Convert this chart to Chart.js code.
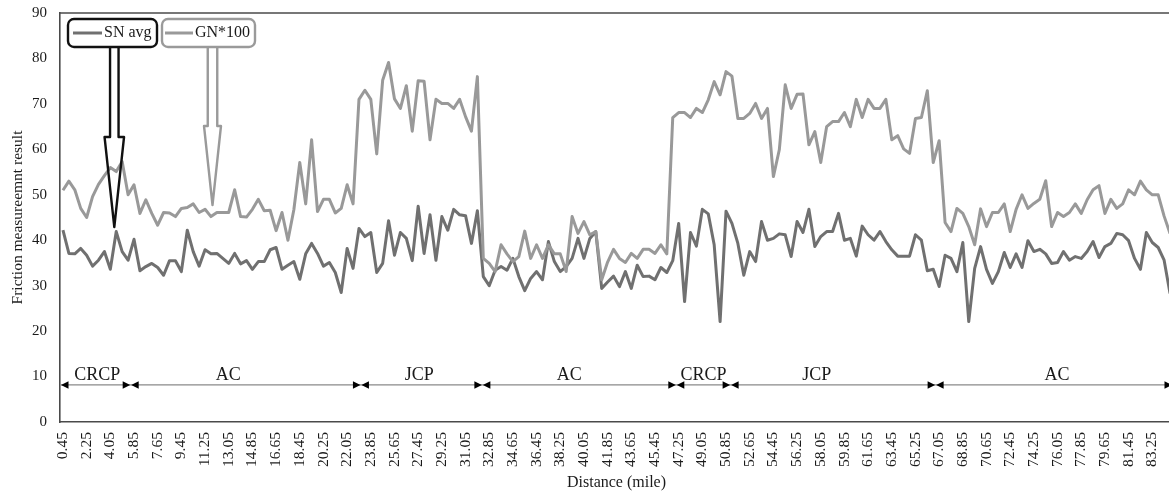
<!DOCTYPE html>
<html lang="en">
<head>
<meta charset="UTF-8">
<title>Friction measurement along the route</title>
<script src="https://cdn.jsdelivr.net/npm/chart.js@4"></script>
<style>
  html, body { margin: 0; padding: 0; background: #fff; overflow: hidden; }
  #wrap { width: 1169px; height: 494px; overflow: hidden; }
  canvas { display: block; }
</style>
</head>
<body>
<div id="wrap"><canvas id="frictionChart" width="1175" height="494"></canvas></div>
<script>
// distance stations every 0.45 mile
const distance = [];
for (let i = 1; i <= 188; i++) distance.push((0.45 * i).toFixed(2));

const snAvg = [
  42.2, 37.1, 37.0, 38.2, 36.7, 34.3, 35.6, 37.5, 33.6, 41.9,
  37.5, 35.6, 40.2, 33.3, 34.2, 34.9, 34.0, 32.3, 35.5, 35.5,
  33.1, 42.2, 37.5, 34.3, 37.9, 37.0, 37.1, 36.0, 34.9, 37.1,
  34.8, 35.5, 33.6, 35.3, 35.3, 37.9, 38.4, 33.6, 34.5, 35.3,
  31.4, 37.0, 39.3, 37.1, 34.3, 35.1, 32.9, 28.5, 38.2, 33.8,
  42.6, 40.8, 41.7, 32.9, 34.9, 44.3, 36.7, 41.7, 40.4, 35.5,
  47.5, 37.1, 45.6, 35.6, 45.2, 42.2, 46.8, 45.6, 45.4, 39.3,
  46.5, 32.0, 30.0, 33.4, 34.2, 33.4, 36.0, 32.0, 28.9, 31.6,
  33.1, 31.3, 39.7, 35.3, 33.1, 34.2, 36.0, 40.4, 36.0, 40.4,
  41.9, 29.4, 30.8, 32.1, 29.8, 33.1, 29.4, 34.5, 32.0, 32.1,
  31.3, 34.0, 32.9, 35.5, 43.7, 26.5, 41.7, 38.7, 46.8, 45.8,
  39.0, 22.1, 46.4, 43.7, 39.3, 32.3, 37.5, 35.3, 44.1, 40.0,
  40.4, 41.4, 41.2, 36.4, 44.1, 41.7, 46.8, 38.6, 40.8, 41.9,
  41.9, 45.9, 40.0, 40.4, 36.5, 43.1, 41.2, 40.0, 41.9, 39.7,
  37.9, 36.5, 36.5, 36.5, 41.2, 40.0, 33.3, 33.6, 29.8, 36.7,
  36.0, 33.1, 39.5, 22.1, 33.8, 38.6, 33.6, 30.5, 33.1, 37.3,
  34.0, 37.0, 34.0, 39.9, 37.5, 38.0, 37.0, 34.9, 35.1, 37.5,
  35.6, 36.4, 36.0, 37.5, 39.7, 36.2, 38.6, 39.3, 41.5, 41.2,
  39.9, 36.0, 33.6, 41.7, 39.5, 38.4, 35.6, 28.3
];

const gn100 = [
  51.0, 53.0, 51.1, 47.0, 45.0, 49.6, 52.3, 54.2, 56.0, 55.1,
  57.3, 50.0, 52.2, 45.9, 48.9, 45.9, 43.3, 46.1, 46.0, 45.2,
  47.0, 47.2, 48.0, 46.1, 46.8, 45.2, 46.1, 46.1, 46.1, 51.1,
  45.2, 45.1, 46.8, 49.0, 46.5, 46.6, 42.1, 46.1, 40.0, 46.7,
  57.1, 48.0, 62.1, 46.3, 49.0, 49.0, 46.0, 47.0, 52.2, 48.0,
  71.0, 73.0, 71.0, 59.0, 75.2, 79.1, 71.1, 69.0, 74.0, 64.0,
  75.1, 75.0, 62.1, 71.0, 70.1, 70.1, 69.0, 71.0, 67.2, 64.0,
  76.0, 36.0, 34.9, 33.1, 39.0, 37.0, 35.3, 36.4, 42.0, 36.0,
  39.0, 36.0, 39.0, 37.0, 37.0, 33.1, 45.2, 41.5, 44.1, 41.2,
  41.9, 31.3, 35.2, 38.0, 36.0, 35.1, 37.1, 36.0, 38.0, 38.0,
  37.1, 39.0, 37.0, 67.0, 68.1, 68.1, 67.0, 69.0, 68.1, 70.9,
  74.9, 72.0, 77.1, 76.1, 66.8, 66.8, 67.9, 70.1, 66.8, 69.0,
  54.0, 59.9, 74.2, 69.0, 72.1, 72.2, 61.0, 63.9, 57.1, 65.0,
  66.1, 66.1, 68.1, 65.0, 71.0, 67.0, 71.0, 69.0, 69.0, 71.0,
  62.1, 63.0, 60.1, 59.1, 66.8, 67.0, 72.9, 57.1, 61.9, 43.9,
  41.9, 47.0, 45.9, 43.0, 39.0, 46.9, 43.0, 46.1, 46.1, 48.0,
  41.9, 46.8, 50.0, 47.0, 48.1, 49.0, 53.1, 43.0, 46.1, 45.2,
  46.1, 48.0, 45.9, 48.9, 51.1, 52.0, 45.9, 49.0, 47.0, 48.0,
  51.1, 50.0, 53.0, 51.1, 50.0, 50.0, 45.3, 41.5
];

// pavement sections (mile where each one ends, and where its name sits)
const sectionNames = ['CRCP', 'AC', 'JCP', 'AC', 'CRCP', 'JCP', 'AC'];
const sectionBreaks = [5.6, 23.1, 32.33, 47.07, 51.2, 66.78];
const sectionLabelAt = [3.06, 13.02, 27.54, 38.93, 49.14, 57.74, 76.01];
const sectionLevel = 8.15;

const SN_COLOR = '#707070';
const GN_COLOR = '#999999';
const AXIS_COLOR = '#4a4a4a';
const TEXT_COLOR = '#1a1a1a';
const SERIF = "'Liberation Serif', 'Times New Roman', serif";

const mileToIndex = m => m / 0.45 - 1;

function triangle(ctx, tipX, y, dir) {
  // dir = -1 points left, 1 points right
  ctx.beginPath();
  ctx.moveTo(tipX, y);
  ctx.lineTo(tipX - dir * 7.5, y - 3.8);
  ctx.lineTo(tipX - dir * 7.5, y + 3.8);
  ctx.closePath();
  ctx.fill();
}

function callout(ctx, box, arrow, color) {
  ctx.save();
  ctx.strokeStyle = color;
  ctx.lineWidth = 2.4;
  ctx.lineJoin = 'round';
  ctx.beginPath();
  ctx.roundRect(box.x, box.y, box.w, box.h, 6);
  ctx.stroke();
  const b = box.y + box.h;
  const a = arrow;
  ctx.beginPath();
  ctx.moveTo(a.cx - a.shaft / 2, b);
  ctx.lineTo(a.cx - a.shaft / 2, a.headTop);
  ctx.lineTo(a.cx - a.head / 2, a.headTop);
  ctx.lineTo(a.cx - a.head / 2 + 0.5, a.headTop + 4.5);
  ctx.lineTo(a.cx, a.tip);
  ctx.lineTo(a.cx + a.head / 2 - 0.5, a.headTop + 4.5);
  ctx.lineTo(a.cx + a.head / 2, a.headTop);
  ctx.lineTo(a.cx + a.shaft / 2, a.headTop);
  ctx.lineTo(a.cx + a.shaft / 2, b);
  ctx.stroke();
  ctx.restore();
}

const extras = {
  id: 'extras',
  afterDatasetsDraw(chart) {
    const { ctx, chartArea: area } = chart;
    const x = chart.scales.x, y = chart.scales.y;

    // top edge of the plot frame
    ctx.save();
    ctx.strokeStyle = AXIS_COLOR;
    ctx.lineWidth = 1.5;
    ctx.beginPath();
    ctx.moveTo(area.left, area.top);
    ctx.lineTo(area.right, area.top);
    ctx.stroke();

    // section extent arrows
    const ly = y.getPixelForValue(sectionLevel);
    ctx.strokeStyle = '#8a8a8a';
    ctx.lineWidth = 1.2;
    ctx.beginPath();
    ctx.moveTo(area.left + 1, ly);
    ctx.lineTo(area.right - 1, ly);
    ctx.stroke();

    ctx.fillStyle = '#000';
    triangle(ctx, area.left + 1, ly, -1);
    sectionBreaks.forEach(m => {
      const bx = x.getPixelForValue(mileToIndex(m));
      triangle(ctx, bx - 0.5, ly, 1);
      triangle(ctx, bx + 0.5, ly, -1);
    });
    triangle(ctx, area.right - 1, ly, 1);

    ctx.font = '18px ' + SERIF;
    ctx.fillStyle = TEXT_COLOR;
    ctx.textAlign = 'center';
    ctx.textBaseline = 'middle';
    sectionNames.forEach((name, i) => {
      ctx.fillText(name, x.getPixelForValue(mileToIndex(sectionLabelAt[i])), ly - 10);
    });
    ctx.restore();
  },
  afterDraw(chart) {
    const ctx = chart.ctx;
    callout(ctx, { x: 68, y: 19, w: 89, h: 28 },
      { cx: 114.3, shaft: 8.5, head: 19.5, headTop: 137, tip: 227 }, '#111');
    callout(ctx, { x: 162, y: 19, w: 93, h: 28 },
      { cx: 212.5, shaft: 9.5, head: 17, headTop: 126, tip: 205 }, '#9a9a9a');

    // legend entries inside the callout boxes
    ctx.save();
    ctx.lineWidth = 3;
    ctx.strokeStyle = SN_COLOR;
    ctx.beginPath(); ctx.moveTo(73, 33); ctx.lineTo(102, 33); ctx.stroke();
    ctx.strokeStyle = GN_COLOR;
    ctx.beginPath(); ctx.moveTo(165, 33); ctx.lineTo(193, 33); ctx.stroke();
    ctx.font = '16px ' + SERIF;
    ctx.fillStyle = TEXT_COLOR;
    ctx.textBaseline = 'middle';
    ctx.fillText('SN avg', 104, 33);
    ctx.fillText('GN*100', 195, 33);
    ctx.restore();
  }
};

const ctx = document.getElementById('frictionChart').getContext('2d');
const frictionChart = new Chart(ctx, {
  type: 'line',
  data: {
    labels: distance,
    datasets: [
      {
        label: 'SN avg',
        data: snAvg,
        borderColor: SN_COLOR,
        borderWidth: 3,
        borderJoinStyle: 'round',
        pointRadius: 0,
        tension: 0,
        order: 1
      },
      {
        label: 'GN*100',
        data: gn100,
        borderColor: GN_COLOR,
        borderWidth: 3,
        borderJoinStyle: 'round',
        pointRadius: 0,
        tension: 0,
        order: 0
      }
    ]
  },
  options: {
    responsive: false,
    animation: false,
    layout: { padding: { top: 13, right: 2, left: 0, bottom: 0 } },
    plugins: {
      legend: { display: false },
      tooltip: { enabled: false }
    },
    scales: {
      x: {
        offset: true,
        grid: { display: false, drawTicks: false },
        border: { display: true, color: AXIS_COLOR, width: 1.6 },
        ticks: {
          autoSkip: false,
          minRotation: 90,
          maxRotation: 90,
          padding: 10,
          color: TEXT_COLOR,
          font: { family: SERIF, size: 15.5 },
          callback: (v, i) => (i % 4 === 0 ? distance[i] : '')
        },
        title: {
          display: true,
          text: 'Distance (mile)',
          color: TEXT_COLOR,
          font: { family: SERIF, size: 16 },
          padding: { top: 0, bottom: 1.5 }
        },
        afterFit: s => { s.height = 72; s.paddingLeft = 0; s.paddingRight = 0; }
      },
      y: {
        min: 0,
        max: 90,
        grid: { display: false, drawTicks: false },
        border: { display: true, color: AXIS_COLOR, width: 1.6 },
        ticks: {
          stepSize: 10,
          padding: 13,
          color: TEXT_COLOR,
          font: { family: SERIF, size: 15 }
        },
        title: {
          display: true,
          text: 'Friction measureemnt result',
          color: TEXT_COLOR,
          font: { family: SERIF, size: 15.5 },
          padding: { top: 9, bottom: 0 }
        },
        afterFit: s => { s.width = 60; s.paddingTop = 0; s.paddingBottom = 0; }
      }
    }
  },
  plugins: [extras]
});
</script>
</body>
</html>
